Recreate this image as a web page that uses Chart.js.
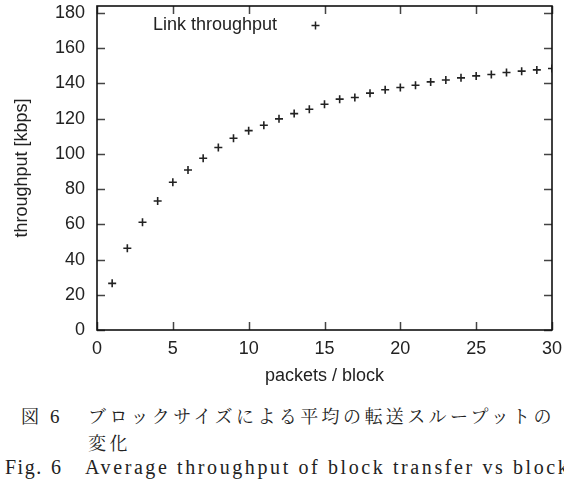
<!DOCTYPE html>
<html>
<head>
<meta charset="utf-8">
<script src="https://cdn.jsdelivr.net/npm/chart.js@4/dist/chart.umd.min.js"></script>
<style>
  html, body { margin:0; padding:0; background:#fff; }
  body { width:564px; height:480px; position:relative; overflow:hidden; }
  #c { position:absolute; left:0; top:0; }
  .cap { position:absolute; white-space:nowrap; color:#222; line-height:1; }
  .jp { font-family:"Noto Serif CJK JP","Noto Sans CJK JP",serif; font-size:18px; }
  .en { font-family:"Liberation Serif","DejaVu Serif",serif; font-size:20px; }
</style>
</head>
<body>
<canvas id="c" width="564" height="390"></canvas>
<div class="cap jp" style="left:21px; top:406px;">図</div>
<div class="cap en" style="left:50px; top:407px; font-size:19px;">6</div>
<div class="cap jp" style="left:88px; top:406px; letter-spacing:3.4px;">ブロックサイズによる平均の転送スループットの</div>
<div class="cap jp" style="left:88px; top:433px; letter-spacing:3.4px;">変化</div>
<div class="cap en" style="left:5px; top:457px; letter-spacing:1.5px;">Fig.</div>
<div class="cap en" style="left:51px; top:457px;">6</div>
<div class="cap en" style="left:85px; top:457px; letter-spacing:2.6px;">Average throughput of block transfer vs block</div>
<script>
const packets = [1,2,3,4,5,6,7,8,9,10,11,12,13,14,15,16,17,18,19,20,21,22,23,24,25,26,27,28,29,30];
const throughput = [26.5,46.4,61.2,73.3,83.9,90.9,97.5,103.6,108.9,113.2,116.3,119.9,122.9,125.4,128.2,131.1,132.0,134.5,136.4,137.7,139.0,140.9,142.0,143.2,144.3,145.1,146.2,147.0,147.7,148.5];
const yTickValues = [0,20,40,60,80,100,120,140,160,180];
const xTickValues = [0,5,10,15,20,25,30];
const seriesLabel = "Link throughput";
const xTitle = "packets / block";
const yTitle = "throughput [kbps]";

const FONT = "'Liberation Sans', Arial, sans-serif";
const INK = "#222";

const framePlugin = {
  id: 'frame',
  afterDatasetsDraw(chart) {
    const {ctx, chartArea: a, scales} = chart;
    ctx.save();
    ctx.strokeStyle = "#444";
    ctx.lineWidth = 1.5;
    const tl = 8;
    scales.x.ticks.forEach(t => {
      const px = Math.round(scales.x.getPixelForValue(t.value)) + 0.5;
      ctx.beginPath();
      ctx.moveTo(px, a.bottom); ctx.lineTo(px, a.bottom - tl);
      ctx.moveTo(px, a.top); ctx.lineTo(px, a.top + tl);
      ctx.stroke();
    });
    scales.y.ticks.forEach(t => {
      const py = Math.round(scales.y.getPixelForValue(t.value)) + 0.5;
      ctx.beginPath();
      ctx.moveTo(a.left, py); ctx.lineTo(a.left + tl, py);
      ctx.moveTo(a.right, py); ctx.lineTo(a.right - tl, py);
      ctx.stroke();
    });
    ctx.strokeStyle = "#111";
    ctx.lineWidth = 1.6;
    ctx.strokeRect(a.left, a.top, a.right - a.left, a.bottom - a.top);
    // key (gnuplot style: text, then sample)
    ctx.fillStyle = INK;
    ctx.font = "18px " + FONT;
    ctx.textAlign = "right";
    ctx.textBaseline = "middle";
    ctx.fillText(seriesLabel, 277, 25);
    ctx.strokeStyle = INK;
    ctx.lineWidth = 1.5;
    const kx = 315.5, ky = 25.5, r = 4;
    ctx.beginPath();
    ctx.moveTo(kx - r, ky); ctx.lineTo(kx + r, ky);
    ctx.moveTo(kx, ky - r); ctx.lineTo(kx, ky + r);
    ctx.stroke();
    ctx.restore();
  }
};

new Chart(document.getElementById('c'), {
  type: 'scatter',
  data: {
    datasets: [{
      label: seriesLabel,
      data: packets.map((p, i) => ({x: p, y: throughput[i]})),
      pointStyle: 'cross',
      pointRadius: 4,
      pointBorderWidth: 1.6,
      borderColor: INK,
      backgroundColor: INK,
      showLine: false
    }]
  },
  options: {
    responsive: false,
    animation: false,
    layout: { padding: { left: 0, right: 12, top: 6, bottom: 0 } },
    plugins: { legend: { display: false }, tooltip: { enabled: false } },
    scales: {
      x: {
        type: 'linear', min: 0, max: 30,
        afterBuildTicks: s => { s.ticks = xTickValues.map(v => ({value: v})); },
        afterFit: s => { s.height = 60; s.paddingLeft = 0; s.paddingRight = 0; },
        grid: { display: false, drawTicks: false },
        border: { display: false },
        ticks: { padding: 8, color: INK, font: { family: FONT, size: 18 }, maxRotation: 0 },
        title: { display: true, text: xTitle, color: INK, font: { family: FONT, size: 18, lineHeight: 1.2 }, padding: { top: 0, bottom: 3 } }
      },
      y: {
        type: 'linear', min: 0, max: 184,
        afterBuildTicks: s => { s.ticks = yTickValues.map(v => ({value: v})); },
        afterFit: s => { s.width = 97; s.paddingTop = 0; s.paddingBottom = 0; },
        grid: { display: false, drawTicks: false },
        border: { display: false },
        ticks: { padding: 12, color: INK, font: { family: FONT, size: 18 } },
        title: { display: true, text: yTitle, color: INK, font: { family: FONT, size: 18, lineHeight: 1.2 }, padding: { top: 11, bottom: 0 } }
      }
    }
  },
  plugins: [framePlugin]
});
</script>
</body>
</html>
